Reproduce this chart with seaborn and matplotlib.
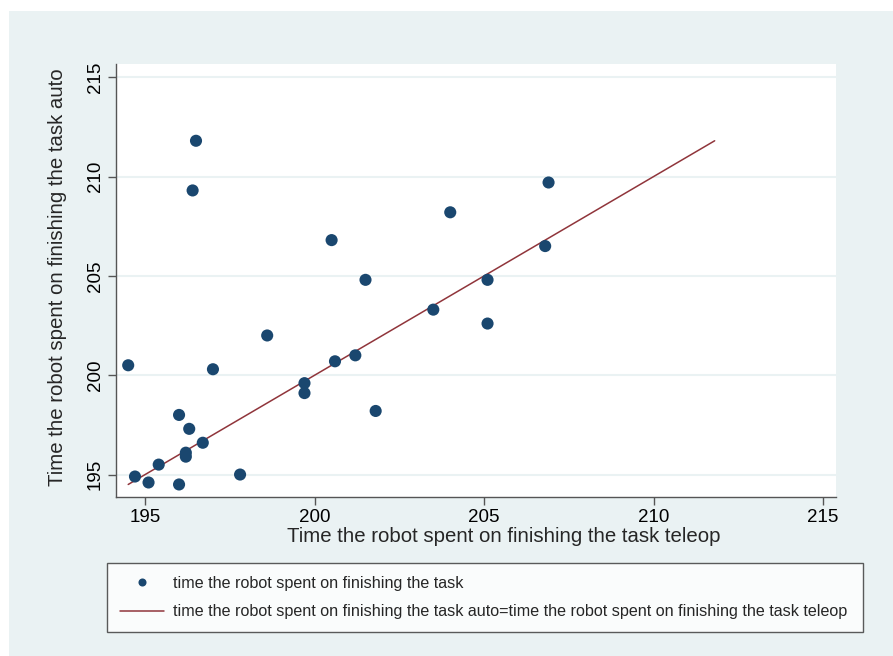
import numpy as np
import pandas as pd
import matplotlib
matplotlib.use("Agg")
import matplotlib.pyplot as plt
from matplotlib.patches import Rectangle
from matplotlib.lines import Line2D
from matplotlib.legend_handler import HandlerLine2D
import seaborn as sns

# values
teleop = [196.5, 196.4, 200.5, 201.5, 198.6, 194.5, 197.0, 200.6, 201.2, 199.7,
          199.7, 201.8, 196.0, 196.3, 196.7, 196.2, 196.2, 195.4, 194.7, 195.1,
          196.0, 197.8, 204.0, 206.9, 206.8, 205.1, 203.5, 205.1]
auto = [211.8, 209.3, 206.8, 204.8, 202.0, 200.5, 200.3, 200.7, 201.0, 199.6,
        199.1, 198.2, 198.0, 197.3, 196.6, 196.1, 195.9, 195.5, 194.9, 194.6,
        194.5, 195.0, 208.2, 209.7, 206.5, 204.8, 203.3, 202.6]
ticks = [195, 200, 205, 210, 215]
lab_pts = "time the robot spent on finishing the task"
lab_line = "time the robot spent on finishing the task auto=time the robot spent on finishing the task teleop"

df = pd.DataFrame({"teleop": teleop, "auto": auto})
lo = min(df.teleop.min(), df.auto.min())
hi = max(df.teleop.max(), df.auto.max())

navy = "#1a476f"
maroon = "#90353b"
bg = "#eaf2f3"

sns.set_theme(style="white")
plt.rcParams["font.family"] = ["Liberation Sans", "DejaVu Sans"]

fig = plt.figure(figsize=(8.93, 6.56), dpi=100)
fig.patch.set_facecolor("white")
fig.add_artist(Rectangle((9 / 893, 0), 1, 1 - 11 / 656, transform=fig.transFigure,
                         facecolor=bg, edgecolor="none", zorder=-10))

ax = fig.add_axes([0.1299, 0.2424, 0.8063, 0.6596])
ax.set_facecolor("white")

sns.scatterplot(data=df, x="teleop", y="auto", ax=ax, color=navy, s=76,
                edgecolor="none", zorder=3, legend=False)
ax.plot([lo, hi], [lo, hi], color=maroon, lw=1.1, zorder=2)

ax.set_xlim(194.14, 215.38)
ax.set_ylim(193.87, 215.65)
ax.set_xticks(ticks)
ax.set_yticks(ticks)
ax.grid(axis="y", color=bg, lw=1.5)
ax.grid(axis="x", visible=False)
for s in ["top", "right"]:
    ax.spines[s].set_visible(False)
for s in ["left", "bottom"]:
    ax.spines[s].set_color("#555555")
    ax.spines[s].set_linewidth(1.0)
ax.tick_params(axis="both", direction="out", length=5.8, width=1, color="#555555",
               labelsize=13.5, pad=3, labelcolor="black", bottom=True, left=True)
for t in ax.get_yticklabels():
    t.set_rotation(90)
    t.set_va("center")

ax.set_xlabel("Time the robot spent on finishing the task teleop", fontsize=14.7)
ax.set_ylabel("Time the robot spent on finishing the task auto", fontsize=14.7)
ax.xaxis.set_label_coords(0.539, -0.070)
ax.yaxis.set_label_coords(-0.068, 0.508)


class RightMarker(HandlerLine2D):
    def get_xdata(self, legend, xdescent, ydescent, width, height, fontsize):
        xdata, xm = super().get_xdata(legend, xdescent, ydescent, width, height, fontsize)
        return xdata, [-xdescent + 0.92 * width]


h_pts = Line2D([], [], ls="none", marker="o", markersize=5.8, color=navy, markeredgewidth=0)
h_line = Line2D([], [], color=maroon, lw=1.1)
leg = fig.legend([h_pts, h_line], [lab_pts, lab_line], loc="upper left",
                 bbox_to_anchor=(107 / 893, 1 - 563 / 656, 756 / 893, 0.0),
                 mode="expand", fontsize=11.6, frameon=True, fancybox=False,
                 handlelength=2.75, handletextpad=0.55, borderpad=0.8,
                 labelspacing=0.83, borderaxespad=0,
                 handler_map={h_pts: RightMarker(numpoints=1)})
leg.get_frame().set_edgecolor("#333333")
leg.get_frame().set_linewidth(1.0)
leg.get_frame().set_facecolor("white")

fig.savefig("out.png", dpi=100)
